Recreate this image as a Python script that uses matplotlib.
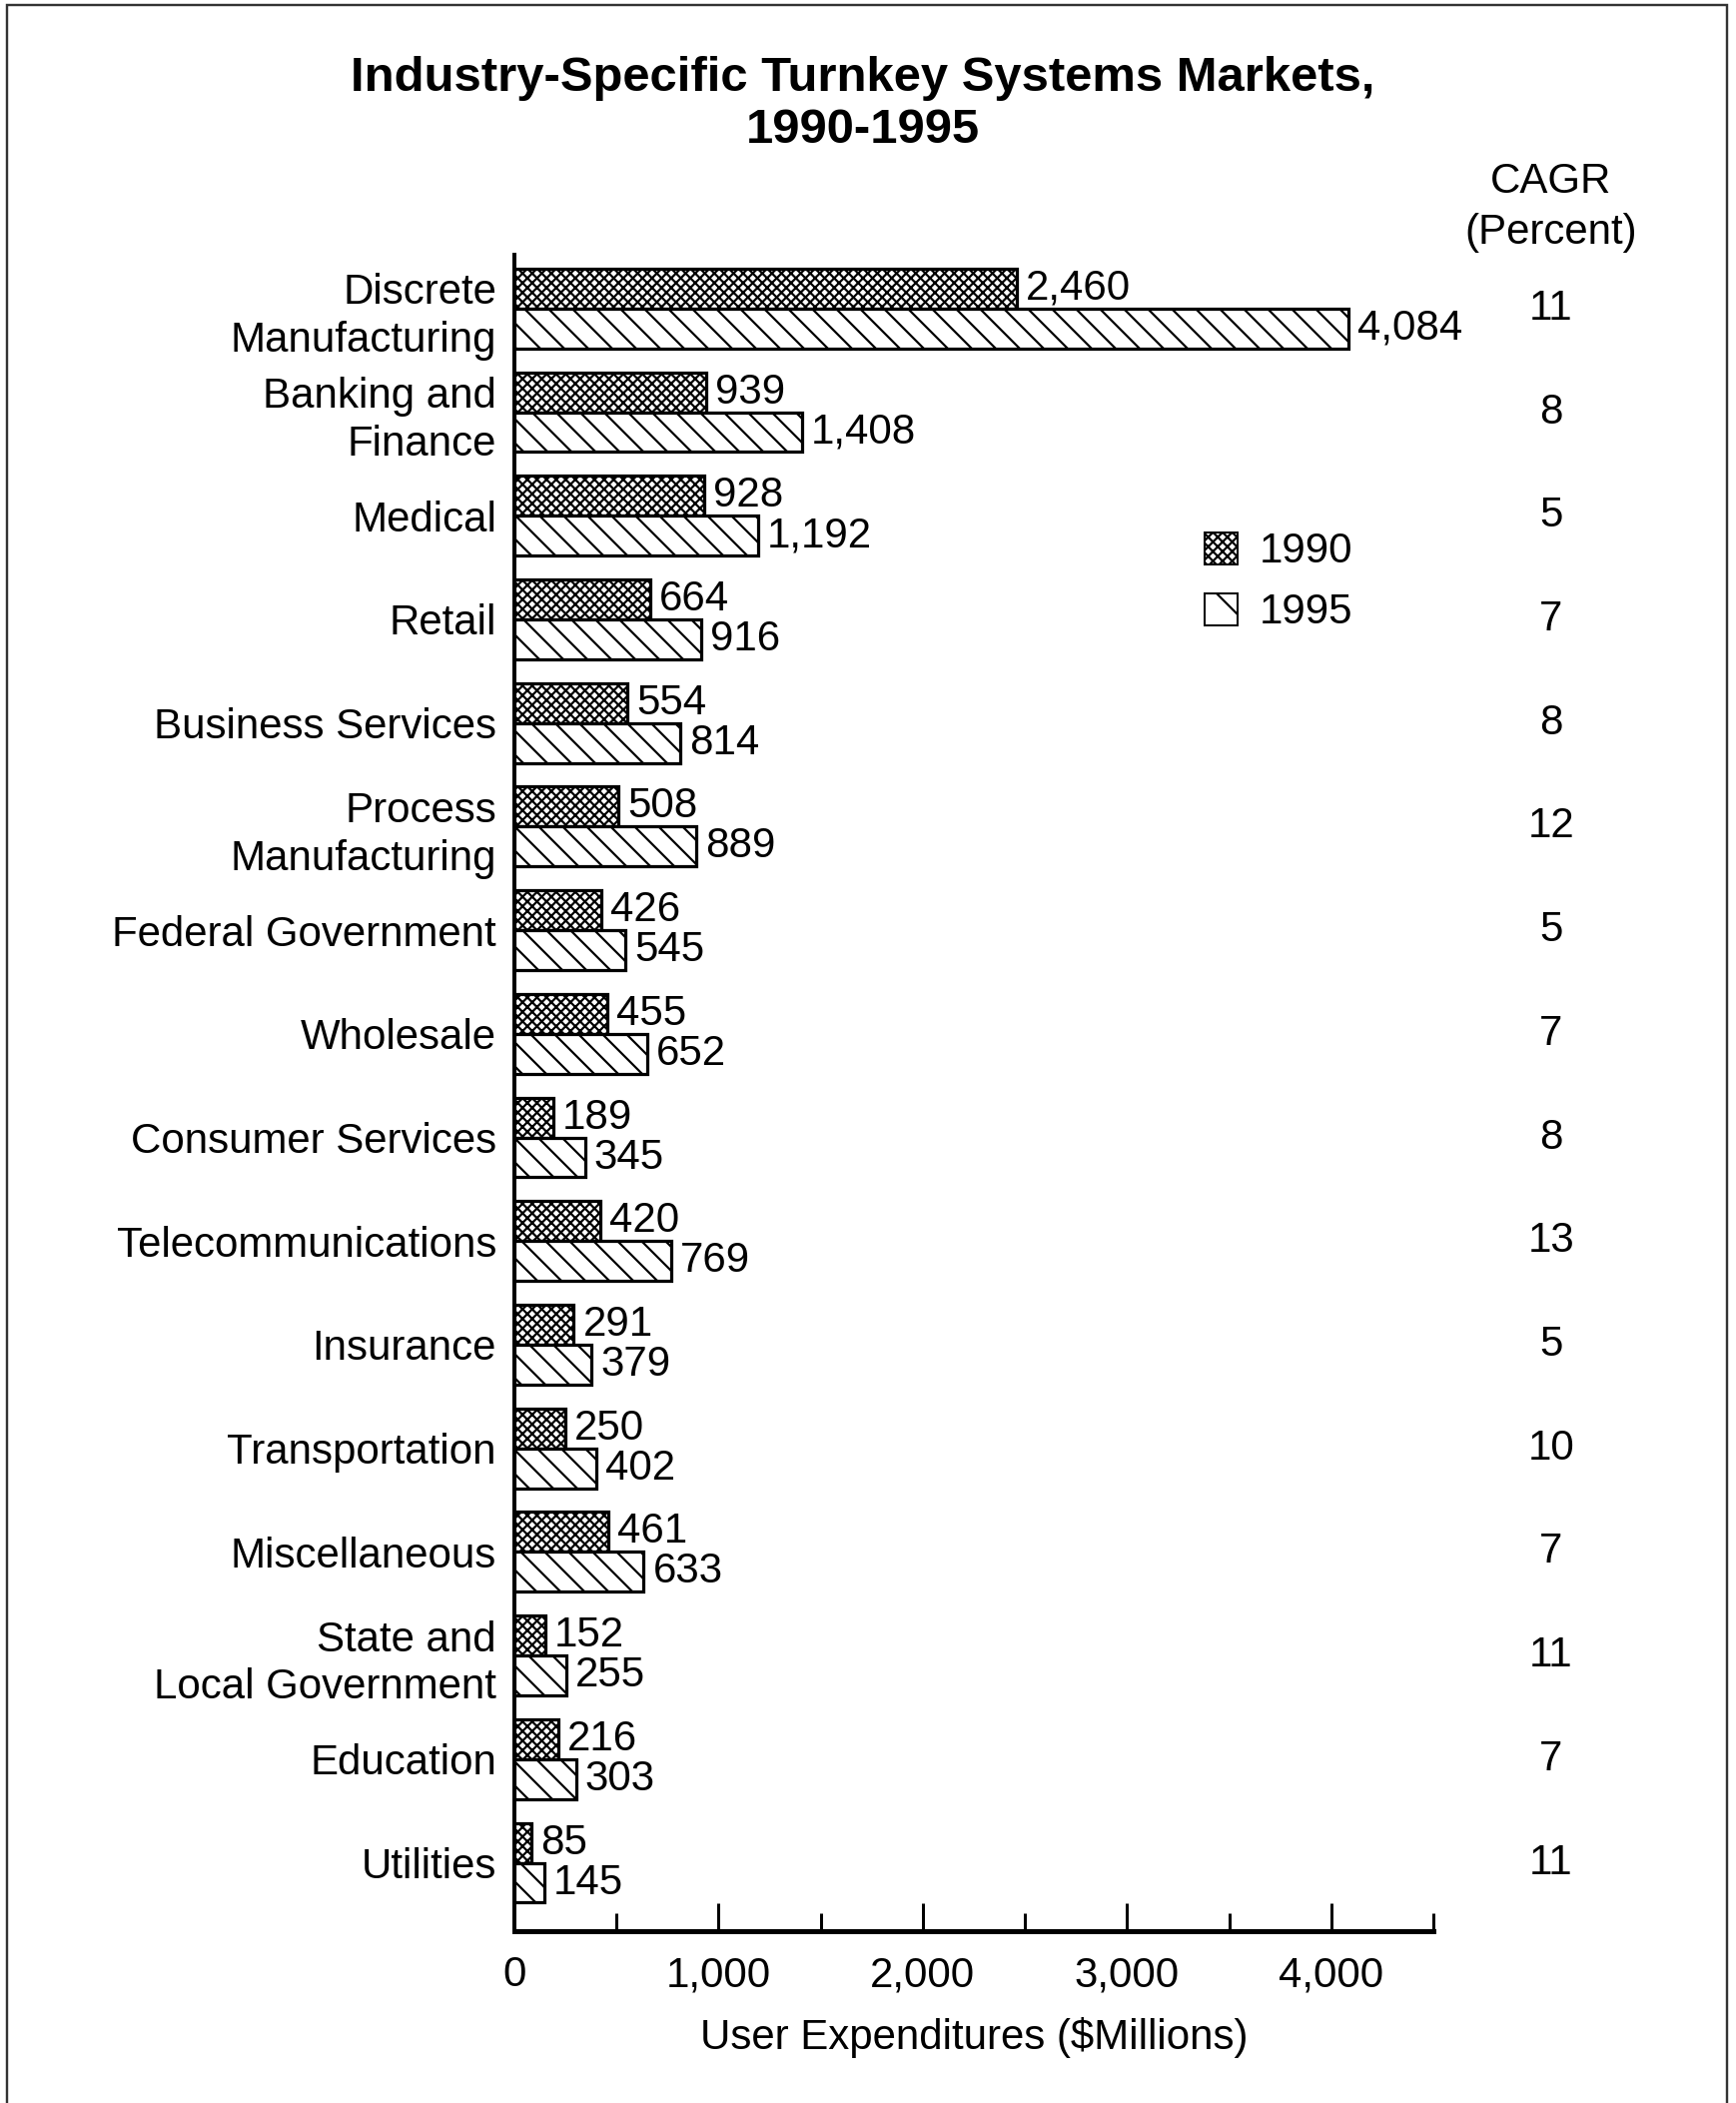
import matplotlib.pyplot as plt
import matplotlib.transforms as mtransforms
from matplotlib.patches import Rectangle, Patch
import numpy as np

plt.rcParams['font.family'] = ['Liberation Sans', 'DejaVu Sans']
plt.rcParams['hatch.linewidth'] = 1.1

categories = ['Discrete\nManufacturing', 'Banking and\nFinance', 'Medical', 'Retail',
              'Business Services', 'Process\nManufacturing', 'Federal Government',
              'Wholesale', 'Consumer Services', 'Telecommunications', 'Insurance',
              'Transportation', 'Miscellaneous', 'State and\nLocal Government',
              'Education', 'Utilities']
v1990 = [2460, 939, 928, 664, 554, 508, 426, 455, 189, 420, 291, 250, 461, 152, 216, 85]
v1995 = [4084, 1408, 1192, 916, 814, 889, 545, 652, 345, 769, 379, 402, 633, 255, 303, 145]
cagr = [11, 8, 5, 7, 8, 12, 5, 7, 8, 13, 5, 10, 7, 11, 7, 11]
xticks = [0, 1000, 2000, 3000, 4000]
xticklabels = ['0', '1,000', '2,000', '3,000', '4,000']

FS = 21
H90 = 'xxxxx'
H95 = '\\\\'
fig = plt.figure(figsize=(1738/144, 2105/144), dpi=144)
ax = fig.add_axes([0.2963, 0.0817, 0.8257-0.2963, 0.8789-0.0817])

y = np.arange(len(categories))
h = 0.385
b1 = ax.barh(y - h/2, v1990, height=h, color='white', edgecolor='black',
             hatch=H90, linewidth=1.6)
b2 = ax.barh(y + h/2, v1995, height=h, color='white', edgecolor='black',
             hatch=H95, linewidth=1.6)

def fmt(v):
    return '{:,}'.format(v)

for yy, v in zip(y - h/2, v1990):
    ax.annotate(fmt(v), (v, yy), xytext=(4.5, 0), textcoords='offset points',
                va='center', ha='left', fontsize=FS)
for yy, v in zip(y + h/2, v1995):
    ax.annotate(fmt(v), (v, yy), xytext=(4.5, 0), textcoords='offset points',
                va='center', ha='left', fontsize=FS)

ax.set_ylim(len(categories) - 1 + 0.66, -0.52)
ax.set_xlim(0, 4500)
ax.set_yticks(y)
ax.set_yticklabels(categories, fontsize=FS, linespacing=1.25)
ax.tick_params(axis='y', length=0, pad=9)

ax.set_xticks(xticks)
ax.set_xticklabels(xticklabels, fontsize=FS)
ax.set_xticks([500, 1500, 2500, 3500, 4500], minor=True)
ax.tick_params(axis='x', which='major', direction='in', length=14, width=1.5, pad=12)
ax.tick_params(axis='x', which='minor', direction='in', length=9, width=1.5)
ax.set_xlabel('User Expenditures ($Millions)', fontsize=FS, labelpad=11)

for s in ['top', 'right']:
    ax.spines[s].set_visible(False)
ax.spines['left'].set_linewidth(2)
ax.spines['bottom'].set_linewidth(2.5)

# CAGR column
trans = mtransforms.blended_transform_factory(fig.transFigure, ax.transData)
for yy, c in zip(y, cagr):
    ax.text(0.8935, yy, str(c), transform=trans, ha='center', va='center',
            fontsize=FS, clip_on=False)
fig.text(0.8935, 0.9015, 'CAGR\n(Percent)', ha='center', va='center',
         fontsize=FS, linespacing=1.35)

fig.text(0.497, 0.9505, 'Industry-Specific Turnkey Systems Markets,\n1990-1995',
         ha='center', va='center', fontsize=24.5, fontweight='bold', linespacing=1.2)

handles = [Patch(facecolor='white', edgecolor='black', hatch=H90, label='1990'),
           Patch(facecolor='white', edgecolor='black', hatch='\\', label='1995')]
fig.legend(handles=handles, loc='upper left', bbox_to_anchor=(0.672, 0.765),
           frameon=False, fontsize=FS, handlelength=0.8, handleheight=0.8,
           handletextpad=0.5, labelspacing=0.5)

fig.patches.append(Rectangle((0.004, -0.01), 0.9908, 0.9976 + 0.01,
                             transform=fig.transFigure, fill=False,
                             edgecolor='#333333', linewidth=1.2))

fig.savefig('out.png', dpi=144, facecolor='white')
